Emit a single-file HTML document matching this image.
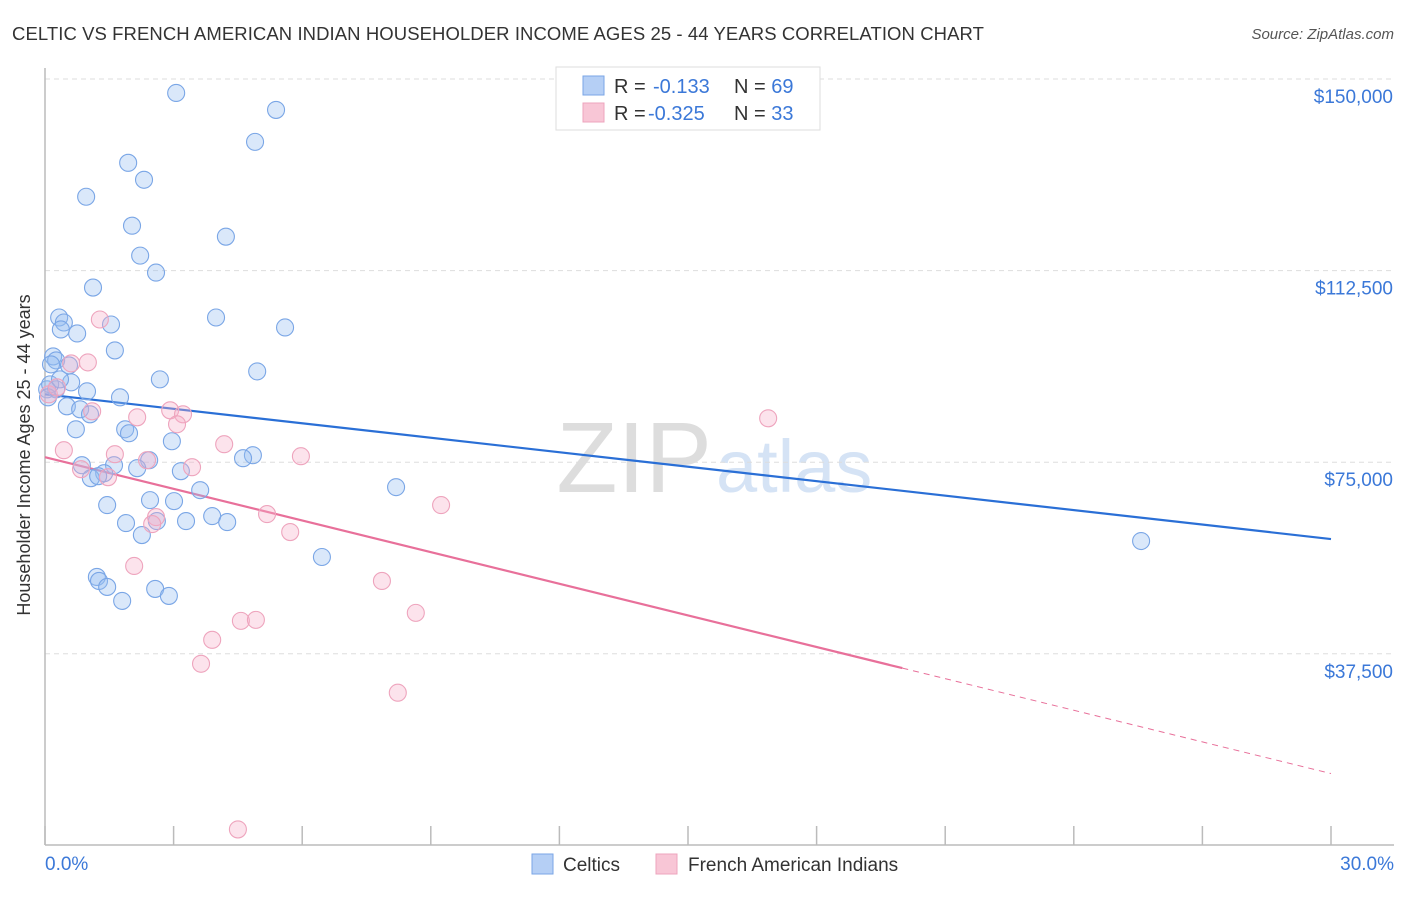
<!DOCTYPE html>
<html><head><meta charset="utf-8"><style>
body{margin:0;background:#fff;font-family:"Liberation Sans",sans-serif;}
svg text{font-family:"Liberation Sans",sans-serif;}
</style></head><body>
<svg id="chart" width="1406" height="892" xmlns="http://www.w3.org/2000/svg">
<text x="12" y="40" font-size="18.5" fill="#333" letter-spacing="0.08">CELTIC VS FRENCH AMERICAN INDIAN HOUSEHOLDER INCOME AGES 25 - 44 YEARS CORRELATION CHART</text>
<text x="1394" y="39" font-size="15" fill="#555" text-anchor="end" font-style="italic">Source: ZipAtlas.com</text>
<text x="712" y="492" font-size="100" fill="#ddd" text-anchor="end" font-family="Liberation Serif">ZIP</text>
<text x="716" y="492" font-size="74" fill="#d5e3f5">atlas</text>
<g id="grid"></g><g id="axes"></g><g id="lines"></g><g id="pts"></g>
<text x="30" y="455" font-size="18" fill="#333" text-anchor="middle" transform="rotate(-90 30 455)">Householder Income Ages 25 - 44 years</text>
<text x="45" y="870" font-size="19" fill="#3b78d8">0.0%</text>
<text x="1394" y="870" font-size="19" fill="#3b78d8" text-anchor="end">30.0%</text>
<g>
<rect x="556" y="67" width="264" height="63" fill="#fff" stroke="#ddd"/>
<rect x="583" y="76" width="21" height="19" fill="#b5cff5" stroke="#7aa6e6"/>
<rect x="583" y="103" width="21" height="19" fill="#f8c6d6" stroke="#eea4bd"/>
<text x="614" y="93" font-size="20" fill="#333">R = <tspan fill="#3b78d8" x="653">-0.133</tspan><tspan fill="#333" x="734">N = </tspan><tspan fill="#3b78d8">69</tspan></text>
<text x="614" y="120" font-size="20" fill="#333">R = <tspan fill="#3b78d8" x="648">-0.325</tspan><tspan fill="#333" x="734">N = </tspan><tspan fill="#3b78d8">33</tspan></text>
</g>
<g>
<rect x="532" y="854" width="21" height="20" fill="#b5cff5" stroke="#7aa6e6"/>
<text x="563" y="871" font-size="19" fill="#333">Celtics</text>
<rect x="656" y="854" width="21" height="20" fill="#f8c6d6" stroke="#eea4bd"/>
<text x="688" y="871" font-size="19" fill="#333">French American Indians</text>
</g>
</svg>
<script>
const yTicks=[37500,75000,112500,150000];
const yTickLabels=["$37,500","$75,000","$112,500","$150,000"];
const xTicks=[0,3,6,9,12,15,18,21,24,27,30];
const celticX=[3.06,5.39,4.90,1.94,2.31,0.96,2.03,4.22,2.22,2.59,1.12,3.99,5.60,0.33,0.44,0.37,1.54,0.75,1.63,0.19,0.26,0.56,0.14,4.95,2.68,0.61,0.26,0.98,1.75,0.51,0.82,1.05,1.87,0.72,1.96,2.96,4.85,4.62,2.43,0.86,1.61,2.15,3.17,1.38,1.07,1.24,8.19,3.62,2.45,3.01,1.45,3.90,1.89,3.29,2.61,4.25,2.26,6.46,25.57,1.21,1.26,1.45,2.57,2.89,1.80,0.05,0.12,0.35,0.07];
const celticY=[147266,143946,137696,133594,130274,126953,121289,119141,115430,112109,109180,103320,101367,103320,102344,100977,101953,100195,96875,95703,94922,93945,94141,92773,91211,90625,89258,88867,87695,85938,85352,84375,81445,81445,80664,79102,76367,75781,75391,74414,74414,73828,73242,72852,71875,72266,70117,69531,67578,67383,66602,64453,63086,63477,63477,63281,60742,56445,59570,52539,51758,50586,50195,48828,47852,89258,90234,91211,87695];
const frenchX=[0.09,0.28,1.28,1.00,0.61,1.10,2.92,3.22,2.15,3.08,4.18,0.44,1.63,5.97,2.38,3.43,0.84,1.47,16.87,9.24,5.18,2.59,2.50,5.72,2.08,7.86,8.65,4.57,4.92,3.90,3.64,8.23,4.50];
const frenchY=[88281,89648,102930,94531,94336,84961,85156,84375,83789,82422,78516,77344,76563,76172,75391,74023,73633,72070,83594,66602,64844,64258,62891,61328,54688,51758,45508,43945,44141,40234,35547,29883,3125];
const celticTrend=[88281,59961];
const frenchTrend=[75977,14063];
const frenchSolidEnd=20;
const NS="http://www.w3.org/2000/svg";
const X=v=>45+(v/30)*1286;
const Y=v=>79+(150000-v)/37500*191.6;
function mk(p,t,a){const e=document.createElementNS(NS,t);for(const k in a)e.setAttribute(k,a[k]);p.appendChild(e);return e;}
const grid=document.getElementById('grid'),axes=document.getElementById('axes'),lines=document.getElementById('lines'),pts=document.getElementById('pts');
yTicks.forEach((v,i)=>{
 const l=mk(grid,'line',{x1:45,x2:1394,y1:Y(v),y2:Y(v),stroke:'#ddd','stroke-dasharray':'5,4'});
 
 
 const t=mk(grid,'text',{x:1393,y:Y(v)+24,'font-size':19,fill:'#3b78d8','text-anchor':'end'});
 t.textContent=yTickLabels[i];
 
 
});
const ya=mk(axes,'line',{x1:45,x2:45,y1:68,y2:845,stroke:'#bbb','stroke-width':1.5});


const xa=mk(axes,'line',{x1:45,x2:1394,y1:845,y2:845,stroke:'#bbb','stroke-width':1.5});


xTicks.forEach(v=>{
 const t=mk(axes,'line',{x1:X(v),x2:X(v),y1:826,y2:845,stroke:'#bbb','stroke-width':1.5});
 
 
});
const bl=mk(lines,'line',{x1:X(0),y1:Y(celticTrend[0]),x2:X(30),y2:Y(celticTrend[1]),stroke:'#2a6fd6','stroke-width':2.2});


const fy=x=>frenchTrend[0]+(frenchTrend[1]-frenchTrend[0])*x/30;
const pl=mk(lines,'line',{x1:X(0),y1:Y(fy(0)),x2:X(frenchSolidEnd),y2:Y(fy(frenchSolidEnd)),stroke:'#e8709a','stroke-width':2.2});


const pd=mk(lines,'line',{x1:X(frenchSolidEnd),y1:Y(fy(frenchSolidEnd)),x2:X(30),y2:Y(fy(30)),stroke:'#e8709a','stroke-width':1,'stroke-dasharray':'6,5'});


celticX.forEach((x,i)=>{
 const c=mk(pts,'circle',{cx:X(x),cy:Y(celticY[i]),r:8.5,fill:'rgba(150,190,240,0.35)',stroke:'#7aa6e6','stroke-width':1.1});
 
 
});
frenchX.forEach((x,i)=>{
 const c=mk(pts,'circle',{cx:X(x),cy:Y(frenchY[i]),r:8.5,fill:'rgba(245,175,200,0.35)',stroke:'#eea4bd','stroke-width':1.1});
 
 
});
</script>
</body></html>
